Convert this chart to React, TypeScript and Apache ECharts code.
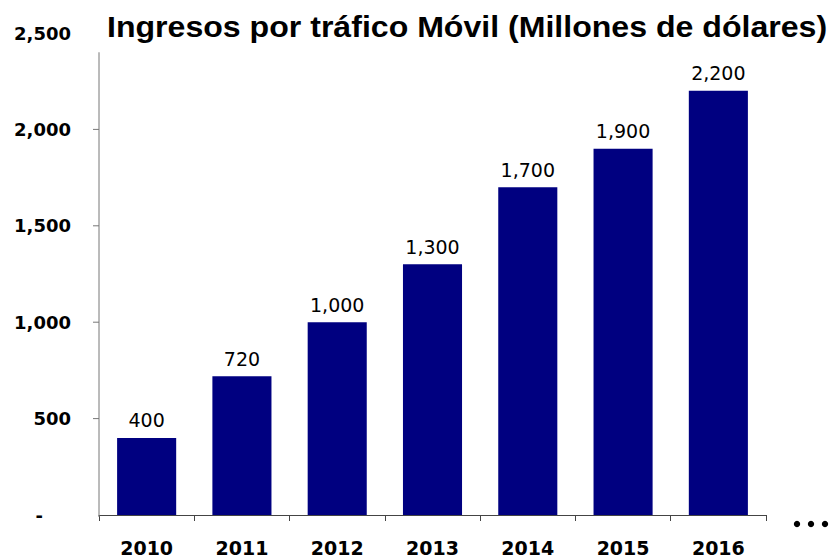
import React, { useEffect, useRef } from "react";
import * as echarts from "echarts";

const categories = ["2010", "2011", "2012", "2013", "2014", "2015", "2016"];
const revenues = [400, 720, 1000, 1300, 1700, 1900, 2200];
const titleText = "Ingresos por tráfico Móvil (Millones de dólares)";

const fmt = (v: number) => v.toLocaleString("en-US");

export default function App() {
  const ref = useRef<HTMLDivElement>(null);
  useEffect(() => {
    if (!ref.current) return;
    const chart = echarts.init(ref.current, undefined, { renderer: "svg" });
    const option: any = {
      animation: false,
      backgroundColor: "#ffffff",
      grid: { left: 99, right: 63, top: 33, bottom: 40, containLabel: false },
      xAxis: {
        type: "category",
        data: categories,
        axisLine: { show: true, lineStyle: { color: "#444", width: 1 } },
        axisTick: { show: true, length: 6, alignWithLabel: false, lineStyle: { color: "#444" } },
        axisLabel: {
          margin: 23,
          fontFamily: "DejaVu Sans",
          fontWeight: "bold",
          fontSize: 19,
          color: "#000",
        },
        splitLine: { show: false },
      },
      yAxis: {
        type: "value",
        min: 0,
        max: 2500,
        interval: 500,
        axisLine: { show: false },
        axisTick: { show: false },
        splitLine: { show: false },
        axisLabel: {
          margin: 28,
          fontFamily: "DejaVu Sans",
          fontWeight: "bold",
          fontSize: 18,
          color: "#000",
          formatter: (v: number) => (v === 0 ? "{z|-}" : fmt(v)),
          rich: {
            z: {
              fontFamily: "DejaVu Sans",
              fontWeight: "bold",
              fontSize: 18,
              color: "#000",
              padding: [0, 28, 0, 0],
            },
          },
        },
      },
      series: [
        {
          type: "bar",
          data: revenues,
          barCategoryGap: "38%",
          itemStyle: { color: "#000080" },
          label: {
            show: true,
            position: "top",
            distance: 8,
            fontFamily: "DejaVu Sans",
            fontSize: 19,
            color: "#000",
            formatter: (p: any) => fmt(p.value),
          },
        },
      ],
    };
    chart.setOption(option);
    const topY = chart.convertToPixel({ yAxisIndex: 0 } as any, 2400) as any;
    const axisX = 99;
    const bottomY = 557 - 40;
    const tickVals = [500, 1000, 1500, 2000];
    const ticks = tickVals.map((v) => {
      const y = chart.convertToPixel({ yAxisIndex: 0 } as any, v) as any;
      return {
        type: "line",
        shape: { x1: axisX - 6, y1: y, x2: axisX, y2: y },
        style: { stroke: "#777", lineWidth: 1 },
        z: 10,
      };
    });
    chart.setOption({
      graphic: [
        {
          type: "group",
          x: 107,
          y: 26.5,
          scaleX: 1.07,
          children: [
            {
              type: "text",
              x: 0,
              y: 0,
              style: {
                text: titleText,
                fontFamily: "Liberation Sans",
                fontWeight: "bold",
                fontSize: 30,
                fill: "#000",
                align: "left",
                verticalAlign: "middle",
              },
            },
          ],
        },
        {
          type: "line",
          shape: { x1: axisX, y1: topY, x2: axisX, y2: bottomY },
          style: { stroke: "#777", lineWidth: 1 },
          z: 10,
        },
        ...ticks,
        { type: "circle", shape: { cx: 797, cy: 524, r: 3.2 }, style: { fill: "#000" } },
        { type: "circle", shape: { cx: 811, cy: 524, r: 3.2 }, style: { fill: "#000" } },
        { type: "circle", shape: { cx: 825, cy: 524, r: 3.2 }, style: { fill: "#000" } },
      ],
    });
    return () => chart.dispose();
  }, []);
  return (
    <div
      ref={ref}
      style={{ position: "absolute", left: 0, top: 0, width: 829, height: 557 }}
    />
  );
}
